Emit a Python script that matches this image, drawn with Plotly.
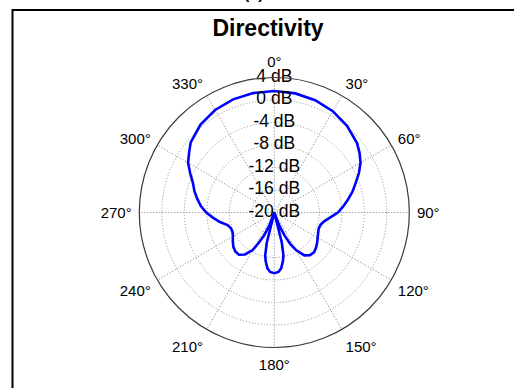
import plotly.graph_objects as go

# pattern (degrees, dB)
theta_deg = [0, 10, 20, 30, 40, 50, 55, 60, 65, 70, 75, 80, 85, 90, 95, 100, 105, 110, 115, 120,
             125, 130, 135, 140, 145, 150, 153, 156, 159, 161, 164, 166, 168, 170, 173, 176, 180,
             184, 187, 190, 192, 194, 196, 199, 201, 204, 207, 210, 215, 220, 225, 230, 235, 240,
             245, 250, 255, 260, 265, 270, 275, 280, 285, 290, 295, 300, 305, 310, 320, 330, 340,
             350, 360]
gain_db = [1.6, 1.5, 1.25, 0.8, 0.1, -0.8, -1.5, -2.3, -3.4, -4.6, -5.6, -6.7, -7.7, -8.7, -10.0,
           -11.0, -11.5, -11.6, -11.4, -11.1, -10.7, -10.3, -10.0, -10.1, -10.7, -12.3, -13.7,
           -15.5, -17.5, -20, -20, -14.5, -12.2, -11.2, -10.0, -9.4, -9.2, -9.4, -10.0, -11.2,
           -12.2, -14.5, -20, -20, -17.5, -15.5, -14.0, -12.3, -10.9, -10.2, -10.2, -10.5, -11.0,
           -11.5, -11.8, -11.8, -11.4, -10.2, -9.1, -7.9, -6.9, -6.1, -5.3, -4.6, -3.5, -2.3,
           -1.5, -0.6, 0.4, 1.05, 1.4, 1.55, 1.6]

ring_values = [4, 0, -4, -8, -12, -16, -20]
ring_labels = [f"{v} dB" for v in ring_values]
angle_ticks = list(range(0, 360, 30))
angle_labels = [f"{a}°" for a in angle_ticks]

FONT = "Liberation Sans, Arial, Helvetica, sans-serif"
W, H = 514, 388
cx, cy, R = 274.3, 212.5, 135

fig = go.Figure()
fig.add_trace(go.Scatterpolar(r=gain_db, theta=theta_deg, mode="lines",
                              line=dict(color="#0000FF", width=2.6), showlegend=False,
                              hoverinfo="skip"))
fig.add_trace(go.Scatterpolar(r=ring_values, theta=[0] * len(ring_values), mode="text",
                              text=ring_labels, textposition="middle center",
                              textfont=dict(family=FONT, size=17.5, color="black"),
                              showlegend=False, hoverinfo="skip", cliponaxis=False))

fig.update_layout(
    width=W, height=H,
    margin=dict(l=0, r=0, t=0, b=0),
    paper_bgcolor="white",
    font=dict(family=FONT, color="black"),
    polar=dict(
        domain=dict(x=[(cx - R) / W, (cx + R) / W], y=[(H - cy - R) / H, (H - cy + R) / H]),
        bgcolor="white",
        radialaxis=dict(range=[-20, 4], tickvals=[-16, -12, -8, -4, 0], showticklabels=False,
                        ticks="", showline=False, gridcolor="#8c8c8c", griddash="1px,2px",
                        gridwidth=1, angle=90),
        angularaxis=dict(direction="clockwise", rotation=90, tickmode="array",
                         tickvals=angle_ticks, ticktext=angle_labels,
                         ticks="outside", ticklen=4, tickcolor="rgba(0,0,0,0)",
                         showline=True, linecolor="#3a3a3a", linewidth=1.2,
                         gridcolor="#7a7a7a", griddash="1px,2px", gridwidth=1,
                         tickfont=dict(family=FONT, size=15, color="black")),
    ),
    title=dict(text="<b>Directivity</b>", x=268 / W, xanchor="center",
               y=1 - 28 / H, yanchor="middle",
               font=dict(family=FONT, size=23, color="black")),
    shapes=[dict(type="rect", xref="paper", yref="paper", x0=12.5 / W, x1=1.05, y0=-0.05,
                 y1=1 - 10 / H, line=dict(color="black", width=2), fillcolor="rgba(0,0,0,0)",
                 layer="below")],
    annotations=[dict(text="<b>(c)</b>", xref="paper", yref="paper", x=254 / W, y=1 - 4 / H,
                      xanchor="center", yanchor="bottom", showarrow=False,
                      font=dict(family=FONT, size=16, color="black"))],
)

fig.write_html("out.html")
